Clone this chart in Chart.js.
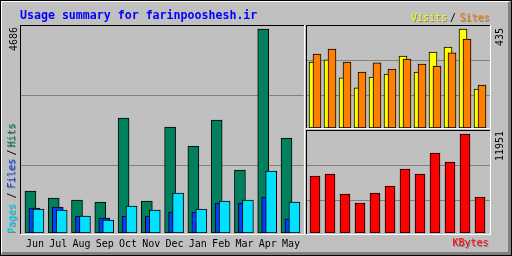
<!DOCTYPE html>
<html><head><meta charset="utf-8">
<script src="https://cdn.jsdelivr.net/npm/chart.js@4"></script>
<style>
html,body{margin:0;padding:0;background:#C0C0C0;}
#wrap{position:relative;width:512px;height:256px;overflow:hidden;background:#C0C0C0;font-family:'DejaVu Sans Mono',monospace;}
canvas{position:absolute;}
.ln{position:absolute;}
.t{position:absolute;white-space:pre;line-height:1;font-size:10px;}
.up{position:absolute;width:200px;height:10px;transform-origin:0 0;transform:rotate(-90deg);}
.up span{position:absolute;top:0;white-space:pre;line-height:1;font-size:10px;}
</style></head><body>
<div id="wrap">
  <canvas id="cMain" width="285" height="231" style="left:20px;top:25px"></canvas>
  <canvas id="cVis" width="185" height="103" style="left:306px;top:25px"></canvas>
  <canvas id="cKb" width="185" height="103" style="left:306px;top:130px"></canvas>
  <div id="frames"></div>
  <div class="t" id="title" style="left:20px;top:10px;font-size:11.6px;font-weight:bold;color:#0000FF">Usage summary for farinpooshesh.ir</div>
  <div class="t" style="left:411px;top:12.5px;color:#FFFF00;text-shadow:1px 1px 0 #808080">Visits</div>
  <div class="t" style="left:450px;top:12.5px;color:#000">/</div>
  <div class="t" style="left:459.5px;top:12.5px;color:#FF8000;text-shadow:1px 1px 0 #808080">Sites</div>
  <div class="t" style="left:452.5px;top:238px;color:#FF0000;text-shadow:1px 1px 0 #808080">KBytes</div>
  <div class="up" style="left:7px;top:233px">
    <span style="left:0px;color:#00E0FF;text-shadow:-1px 1px 0 #808080">Pages</span>
    <span style="left:34.5px;color:#000">/</span>
    <span style="left:44.5px;color:#0040FF;text-shadow:-1px 1px 0 #808080">Files</span>
    <span style="left:77.5px;color:#000">/</span>
    <span style="left:86px;color:#00805C;text-shadow:-1px 1px 0 #808080">Hits</span>
  </div>
  <div class="up" style="left:8.5px;top:51px"><span id="lblHits" style="left:0;color:#000"></span></div>
  <div class="up" style="left:494.5px;top:45.5px"><span id="lblVis" style="left:0;color:#000"></span></div>
  <div class="up" style="left:494.5px;top:161px"><span id="lblKb" style="left:0;color:#000"></span></div>
</div>
<script>
// ---- data ----
const months = ['Jun','Jul','Aug','Sep','Oct','Nov','Dec','Jan','Feb','Mar','Apr','May'];
const hits   = [965, 804, 758, 712, 2642, 735, 2435, 1998, 2596, 1447, 4686, 2182];
const files  = [574, 597, 391, 345, 391, 391, 482, 482, 689, 689, 827, 322];
const pages  = [551, 528, 391, 299, 620, 528, 919, 551, 735, 758, 1424, 712];
const visits = [290, 299, 220, 176, 224, 237, 316, 246, 334, 356, 435, 171];
const sites  = [325, 347, 290, 246, 286, 259, 303, 281, 272, 330, 391, 189];
const kbytes = [6881, 7122, 4708, 3622, 4829, 5674, 7726, 7122, 9657, 8571, 11951, 4346];

const hitsMax = Math.max(...hits);
const visitsMax = Math.max(...visits);
const kbytesMax = Math.max(...kbytes);
document.getElementById('lblHits').textContent = String(hitsMax);
document.getElementById('lblVis').textContent = String(visitsMax);
document.getElementById('lblKb').textContent = String(kbytesMax);

// ---- frames (decoration) ----
const fr = document.getElementById('frames');
function line(x, y, w, h, c){ const d=document.createElement('div'); d.className='ln';
  d.style.cssText=`left:${x}px;top:${y}px;width:${w}px;height:${h}px;background:${c}`; fr.appendChild(d); }
// outer bevel
line(0,0,512,1,'#000'); line(0,0,1,256,'#000'); line(511,0,1,256,'#000'); line(0,255,512,1,'#000');
line(1,1,508,1,'#fff'); line(1,1,1,252,'#fff');
line(508,2,3,253,'#808080'); line(2,252,509,3,'#808080');
// panels: black top/left, white bottom/right
function panel(x1,y1,x2,y2){ line(x1,y1,x2-x1+1,1,'#000'); line(x1,y1,1,y2-y1+1,'#000');
  line(x1,y2,x2-x1+1,1,'#fff'); line(x2,y1,1,y2-y1+1,'#fff'); }
panel(20,25,304,234);
panel(306,25,490,128);
panel(306,130,490,234);

// ---- charts ----
function build(id, cfg){
  const cv = document.getElementById(id);
  const W = cv.width, H = cv.height, areaH = cfg.areaH;
  const xMin = -cfg.x0 / cfg.step, xMax = xMin + W / cfg.step;
  const yMax = cfg.max * areaH / cfg.maxPx;
  const n = cfg.series.length;
  const datasets = cfg.series.map((s, k) => ({
    data: s.values.map((v, i) => ({x: i + s.dx / cfg.step, y: v})),
    backgroundColor: s.color, borderColor: '#000', borderWidth: 1, borderSkipped: false,
    barThickness: s.w, grouped: false, order: n - k
  }));
  const hasLabels = !!cfg.labels;
  new Chart(cv, {
    type: 'bar',
    data: {datasets},
    options: {
      responsive: false, animation: false, devicePixelRatio: 1,
      layout: {padding: 0},
      plugins: {legend: {display: false}, tooltip: {enabled: false}, title: {display: false}},
      scales: {
        x: {
          type: 'linear', min: xMin, max: xMax, offset: false, display: hasLabels,
          grid: {display: false, drawTicks: false}, border: {display: false},
          afterBuildTicks: sc => { if (hasLabels) sc.ticks = cfg.labels.map((l, i) => ({value: i + cfg.labelDx / cfg.step})); },
          afterFit: sc => { sc.height = H - areaH; },
          ticks: {autoSkip: false, maxRotation: 0, minRotation: 0, padding: cfg.labelPad || 0, color: '#000',
                  font: {family: 'DejaVu Sans Mono', size: 10},
                  callback: (v, i) => hasLabels ? cfg.labels[i] : ''}
        },
        y: {
          type: 'linear', min: 0, max: yMax, position: 'left',
          afterFit: sc => { sc.width = 0; },
          afterBuildTicks: sc => { sc.ticks = cfg.gridRows.map(r => ({value: yMax * (areaH - (r + 0.5)) / areaH})); },
          ticks: {display: false}, grid: {color: '#808080', drawTicks: false, lineWidth: 1}, border: {display: false}
        }
      }
    }
  });
}

build('cMain', {
  areaH: 208, max: hitsMax, maxPx: 204, gridRows: [70, 140],
  x0: 10.5, step: 23.4, labels: months, labelDx: 4.5, labelPad: 5,
  series: [
    {values: hits,  color: '#00805C', dx: 0, w: 11},
    {values: files, color: '#0040FF', dx: 4, w: 11},
    {values: pages, color: '#00E0FF', dx: 8, w: 11}
  ]
});
build('cVis', {
  areaH: 103, max: visitsMax, maxPx: 99, gridRows: [35, 70],
  x0: 7, step: 15,
  series: [
    {values: visits, color: '#FFFF00', dx: 0, w: 8},
    {values: sites,  color: '#FF8000', dx: 4, w: 8}
  ]
});
build('cKb', {
  areaH: 103, max: kbytesMax, maxPx: 99, gridRows: [35, 70],
  x0: 9, step: 15,
  series: [
    {values: kbytes, color: '#FF0000', dx: 0, w: 10}
  ]
});
</script>
</body></html>
